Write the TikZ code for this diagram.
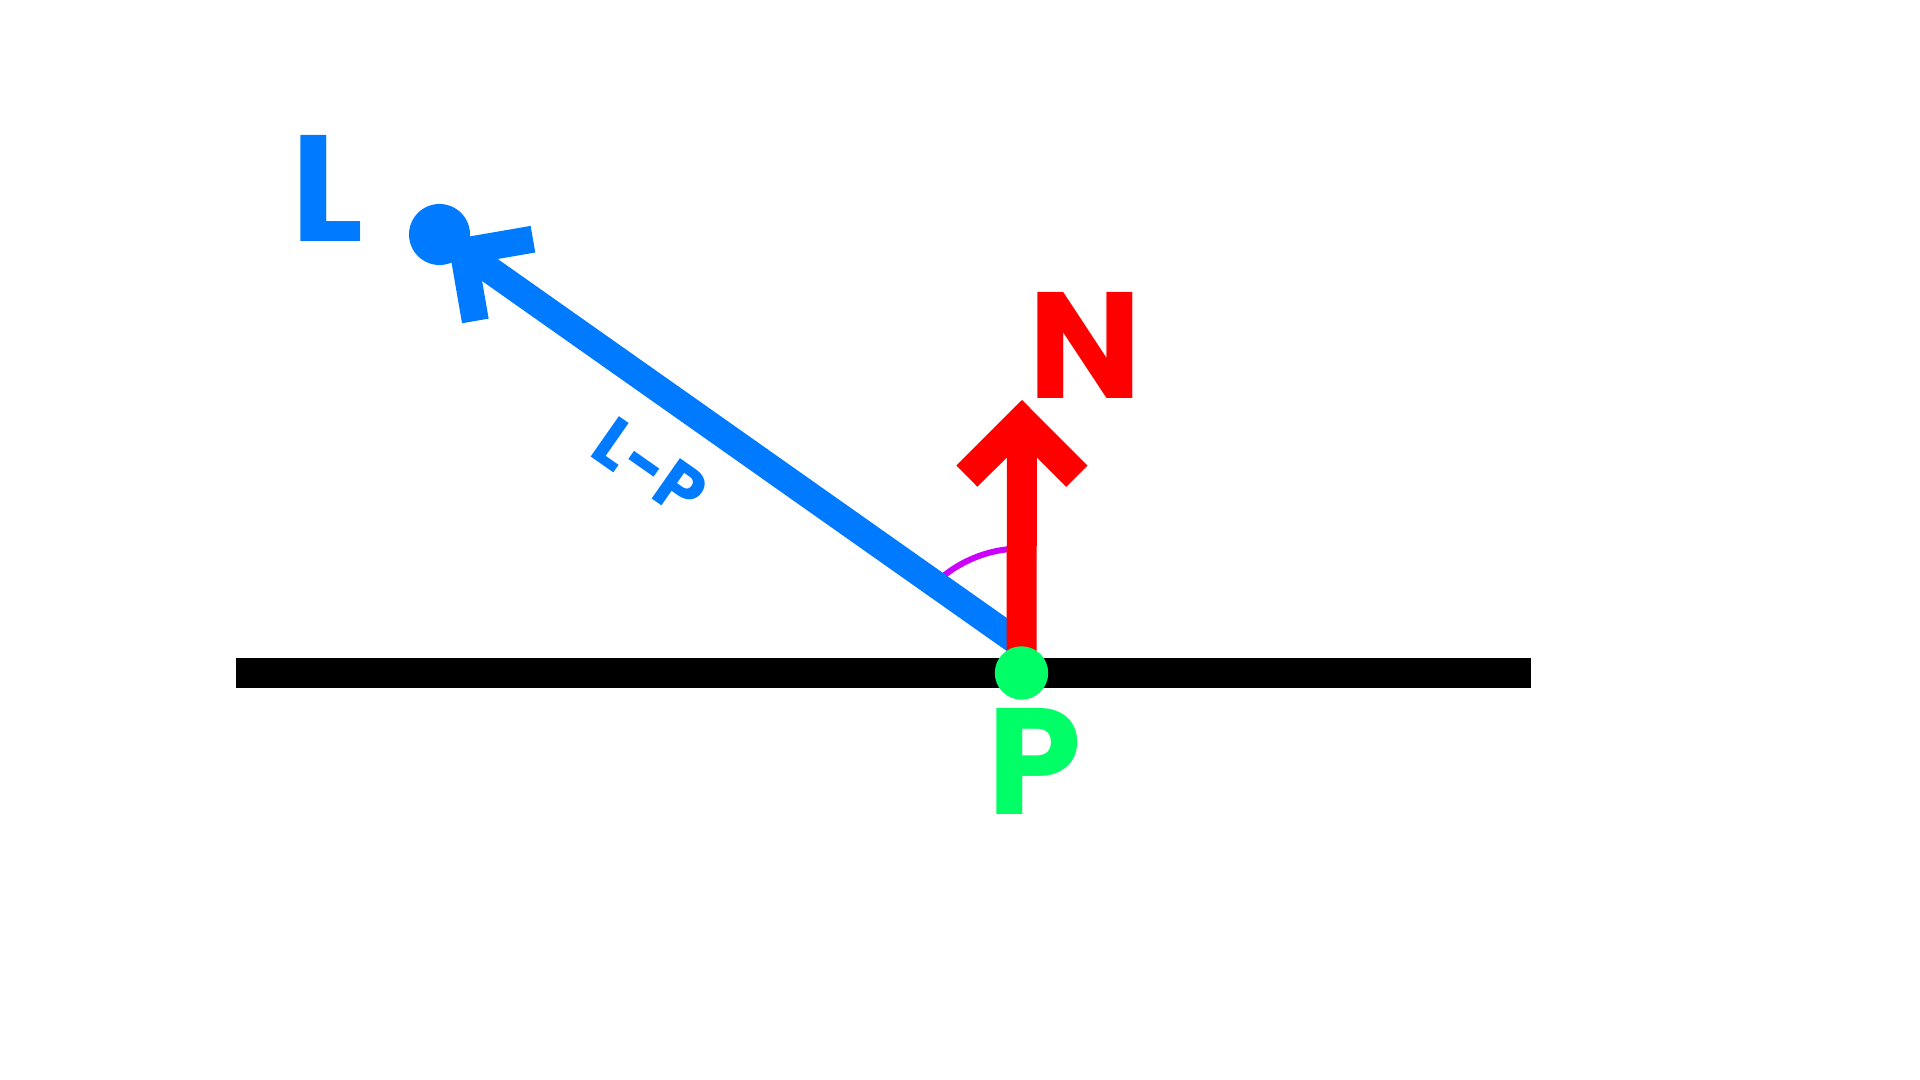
\documentclass[tikz,border=0pt]{standalone}
\usepackage{fontspec}
\setmainfont{Poppins}
\usetikzlibrary{arrows.meta}

\definecolor{lightblue}{RGB}{0,122,255}
\definecolor{normalred}{RGB}{255,0,0}
\definecolor{pointgreen}{RGB}{0,255,102}
\definecolor{anglepurple}{RGB}{204,0,255}

\begin{document}
\begin{tikzpicture}[thick,
    dot/.style={circle, inner sep=0pt, minimum size=#1},
    big label/.style={font=\bfseries\fontsize{43}{43}\selectfont, inner sep=0pt},
    small label/.style={font=\bfseries\fontsize{20}{20}\selectfont, inner sep=0pt, text=lightblue},
    surface/.style={line width=0.30cm, black},
    lp arrow/.style={line width=0.27cm, lightblue, shorten >=0.1cm, -{Straight Barb[length=5mm, width=10mm, sharp]}},
    n arrow/.style={line width=0.30cm, normalred, -{Straight Barb[length=5.5mm, width=11mm, sharp]}},
    angle arc/.style={line width=0.06cm, anglepurple}]

            \useasboundingbox (0,0) rectangle (19.2,10.8);

            \coordinate (sl) at (2.36,4.07);
            \coordinate (sr) at (15.31,4.07);
            \coordinate (ntip) at (10.22,6.80);

            \node[dot=0.534cm] (P) at (10.215,4.07) {};
            \node[dot=0.61cm, fill=lightblue] (L) at (4.395,8.455) {};

            \node[big label, text=lightblue] (Llabel) at (3.28,8.92) {L};
            \node[big label, text=normalred] (Nlabel) at (10.855,7.345) {N};
            \node[big label, text=pointgreen] (Plabel) at (10.345,3.19) {P};
            \node[small label, rotate=-35] (LPlabel) at (6.50,6.12) {L-P};

            \coordinate (arcstart) at ([shift={(136:1.245)}]P.center);

            \draw[surface] (sl) -- (sr);
            \draw[angle arc] (arcstart) arc[start angle=136, end angle=90, radius=1.245];

            \path
                (P.north) edge[lp arrow] (L.center)
                (P.center) edge[n arrow] (ntip)
                ;

            \node[dot=0.534cm, fill=pointgreen] at (P) {};
        \end{tikzpicture}
\end{document}
